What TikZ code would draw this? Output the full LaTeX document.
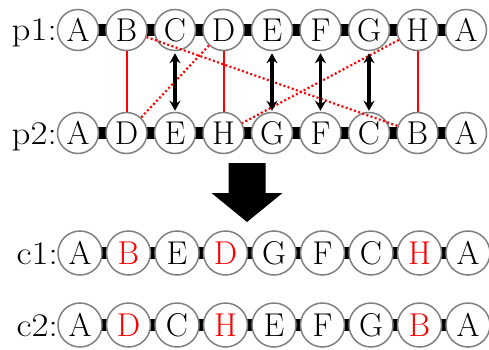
\documentclass[tikz,border=0pt]{standalone}
\usetikzlibrary{arrows.meta,backgrounds}
\begin{document}
\begin{tikzpicture}[x=1pt,y=-1pt,
  gene/.style={circle, draw=black!50, fill=white, line width=1.5pt,
    minimum size=41pt, inner sep=0pt,
    font=\fontsize{33}{40}\selectfont, text height=22.5pt, text depth=0pt},
  bigene/.style={gene, minimum size=44pt},
  lab/.style={anchor=base east, inner sep=0pt, font=\fontsize{33}{40}\selectfont},
  bar/.style={line width=12pt, black},
  keep/.style={red, line width=2pt},
  swap/.style={red, line width=2.2pt, dash pattern=on 2pt off 2.4pt},
  pair/.style={black, line width=3.2pt, {Stealth[length=10pt,width=11pt]}-{Stealth[length=10pt,width=11pt]},
    shorten <=2pt, shorten >=1pt}]
\useasboundingbox (0,0) rectangle (489,350);

% parent chromosomes
\foreach \l [count=\i from 0] in {A,B,C,D,E,F,G,H,A}
  \node[gene] (p1-\i) at (78+48.5*\i,30) {\l};
\foreach \l [count=\i from 0] in {A,D,E,H,G,F,C,B,A}
  \node[gene] (p2-\i) at (78+48.5*\i,133) {\l};

% offspring chromosomes
\foreach \l/\c [count=\i from 0] in {A/black,B/red,E/black,D/red,G/black,F/black,C/black,H/red,A/black}
  \node[bigene, text=\c] (c1-\i) at (80+48.5*\i,253) {\l};
\foreach \l/\c [count=\i from 0] in {A/black,D/red,C/black,H/red,E/black,F/black,G/black,B/red,A/black}
  \node[bigene, text=\c] (c2-\i) at (80+48.5*\i,325) {\l};

% row labels
\node[lab, xscale=1.12] (lp1) at (57,41) {p1:};
\node[lab, xscale=1.12] (lp2) at (57,144) {p2:};
\node[lab, xscale=1.12] (lc1) at (58,264) {c1:};
\node[lab, xscale=1.12] (lc2) at (58,336) {c2:};

% links joining the genes of each chromosome
\begin{scope}[on background layer]
  \foreach \r in {p1,p2,c1,c2}
    \draw[bar] (\r-0.center) -- (\r-8.center);
\end{scope}

% genes kept in place
\draw[keep] (p1-1) -- (p2-1);
\draw[keep] (p1-3) -- (p2-3);
\draw[keep] (p1-7) -- (p2-7);

% genes exchanged between parents
\draw[swap] (p1-1) -- (p2-7);
\draw[swap] (p1-3) -- (p2-1);
\draw[swap] (p1-7) -- (p2-3);

% mapped positions
\draw[pair] (p1-2) -- (p2-2);
\draw[pair] (p1-4) -- (p2-4);
\draw[pair] (p1-5) -- (p2-5);
\draw[pair] (p1-6) -- (p2-6);

% big downward arrow
\fill[black] (228.5,163) -- (265.5,163) -- (265.5,193) -- (282.5,193)
  -- (247,222) -- (211.5,193) -- (228.5,193) -- cycle;
\end{tikzpicture}
\end{document}
